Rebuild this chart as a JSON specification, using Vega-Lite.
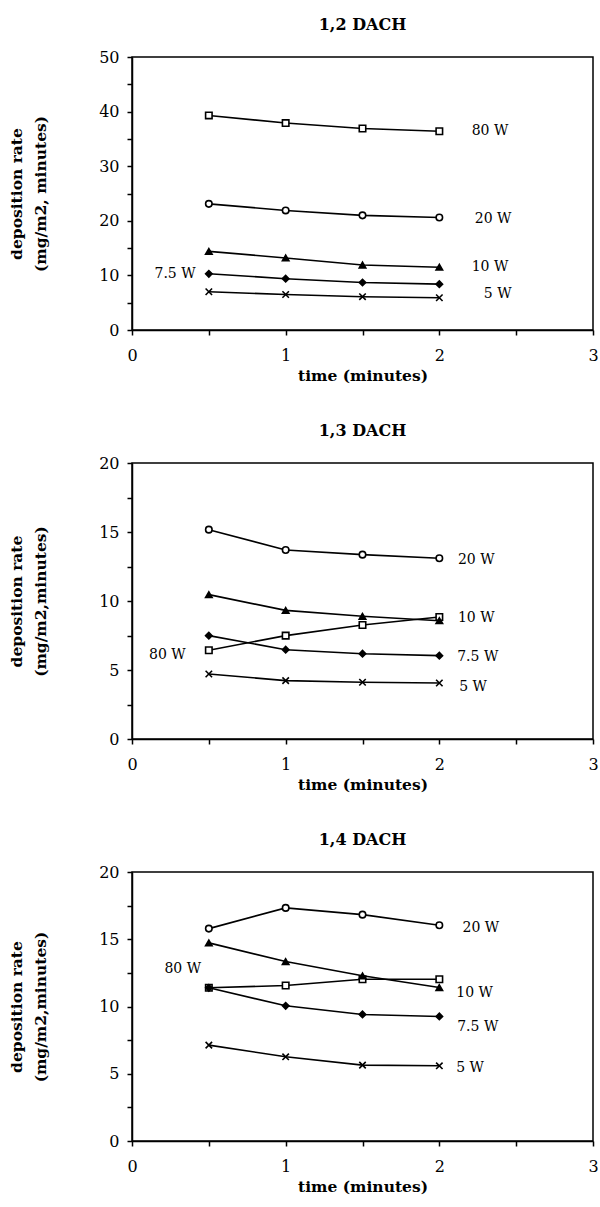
{
  "$schema": "https://vega.github.io/schema/vega-lite/v6.json",
  "background": "white",
  "padding": {"left": 8, "top": 16, "right": 0, "bottom": 0},
  "spacing": 37,
  "config": {
    "font": "DejaVu Serif",
    "view": {"stroke": "black", "strokeWidth": 1.5},
    "axis": {
      "domainColor": "black", "domainWidth": 1.5, "tickColor": "black", "tickWidth": 1.5, "tickSize": 5,
      "grid": false, "labelFont": "DejaVu Serif", "labelFontSize": 16, "labelColor": "black",
      "titleFont": "DejaVu Serif", "titleFontSize": 15.5, "titleFontWeight": "bold", "titleColor": "black"
    },
    "axisX": {"labelPadding": 12, "titlePadding": 5, "labelFlush": false, "labelOverlap": false},
    "axisY": {"labelPadding": 8, "titlePadding": 50, "titleLineHeight": 24, "labelOverlap": false},
    "title": {"font": "DejaVu Serif", "fontSize": 16, "fontWeight": "bold", "color": "black", "offset": 16}
  },
  "datasets": {
    "d12": [
      {"s": "80 W", "t": 0.5, "v": 39.3}, {"s": "80 W", "t": 1, "v": 37.9}, {"s": "80 W", "t": 1.5, "v": 36.9}, {"s": "80 W", "t": 2, "v": 36.4},
      {"s": "20 W", "t": 0.5, "v": 23.1}, {"s": "20 W", "t": 1, "v": 21.9}, {"s": "20 W", "t": 1.5, "v": 21.0}, {"s": "20 W", "t": 2, "v": 20.6},
      {"s": "10 W", "t": 0.5, "v": 14.4}, {"s": "10 W", "t": 1, "v": 13.2}, {"s": "10 W", "t": 1.5, "v": 11.9}, {"s": "10 W", "t": 2, "v": 11.5},
      {"s": "7.5 W", "t": 0.5, "v": 10.3}, {"s": "7.5 W", "t": 1, "v": 9.4}, {"s": "7.5 W", "t": 1.5, "v": 8.7}, {"s": "7.5 W", "t": 2, "v": 8.4},
      {"s": "5 W", "t": 0.5, "v": 7.0}, {"s": "5 W", "t": 1, "v": 6.5}, {"s": "5 W", "t": 1.5, "v": 6.1}, {"s": "5 W", "t": 2, "v": 5.9}
    ],
    "d13": [
      {"s": "80 W", "t": 0.5, "v": 6.43}, {"s": "80 W", "t": 1, "v": 7.49}, {"s": "80 W", "t": 1.5, "v": 8.26}, {"s": "80 W", "t": 2, "v": 8.84},
      {"s": "20 W", "t": 0.5, "v": 15.17}, {"s": "20 W", "t": 1, "v": 13.7}, {"s": "20 W", "t": 1.5, "v": 13.36}, {"s": "20 W", "t": 2, "v": 13.1},
      {"s": "10 W", "t": 0.5, "v": 10.46}, {"s": "10 W", "t": 1, "v": 9.32}, {"s": "10 W", "t": 1.5, "v": 8.89}, {"s": "10 W", "t": 2, "v": 8.57},
      {"s": "7.5 W", "t": 0.5, "v": 7.49}, {"s": "7.5 W", "t": 1, "v": 6.47}, {"s": "7.5 W", "t": 1.5, "v": 6.18}, {"s": "7.5 W", "t": 2, "v": 6.04},
      {"s": "5 W", "t": 0.5, "v": 4.71}, {"s": "5 W", "t": 1, "v": 4.23}, {"s": "5 W", "t": 1.5, "v": 4.11}, {"s": "5 W", "t": 2, "v": 4.06}
    ],
    "d14": [
      {"s": "80 W", "t": 0.5, "v": 11.39}, {"s": "80 W", "t": 1, "v": 11.56}, {"s": "80 W", "t": 1.5, "v": 12.03}, {"s": "80 W", "t": 2, "v": 12.03},
      {"s": "20 W", "t": 0.5, "v": 15.79}, {"s": "20 W", "t": 1, "v": 17.33}, {"s": "20 W", "t": 1.5, "v": 16.83}, {"s": "20 W", "t": 2, "v": 16.04},
      {"s": "10 W", "t": 0.5, "v": 14.73}, {"s": "10 W", "t": 1, "v": 13.34}, {"s": "10 W", "t": 1.5, "v": 12.28}, {"s": "10 W", "t": 2, "v": 11.41},
      {"s": "7.5 W", "t": 0.5, "v": 11.39}, {"s": "7.5 W", "t": 1, "v": 10.05}, {"s": "7.5 W", "t": 1.5, "v": 9.41}, {"s": "7.5 W", "t": 2, "v": 9.26},
      {"s": "5 W", "t": 0.5, "v": 7.13}, {"s": "5 W", "t": 1, "v": 6.26}, {"s": "5 W", "t": 1.5, "v": 5.64}, {"s": "5 W", "t": 2, "v": 5.59}
    ],
    "l12": [
      {"label": "80 W", "t": 2.33, "v": 36.4}, {"label": "20 W", "t": 2.35, "v": 20.3}, {"label": "10 W", "t": 2.33, "v": 11.5},
      {"label": "5 W", "t": 2.38, "v": 6.6}, {"label": "7.5 W", "t": 0.28, "v": 10.3}
    ],
    "l13": [
      {"label": "20 W", "t": 2.24, "v": 12.97}, {"label": "10 W", "t": 2.24, "v": 8.77}, {"label": "7.5 W", "t": 2.25, "v": 5.94},
      {"label": "5 W", "t": 2.22, "v": 3.77}, {"label": "80 W", "t": 0.23, "v": 6.09}
    ],
    "l14": [
      {"label": "20 W", "t": 2.27, "v": 15.8}, {"label": "10 W", "t": 2.23, "v": 11.0}, {"label": "7.5 W", "t": 2.25, "v": 8.48},
      {"label": "5 W", "t": 2.2, "v": 5.43}, {"label": "80 W", "t": 0.33, "v": 12.8}
    ]
  },
  "vconcat": [
    {
      "title": "1,2 DACH",
      "width": 461, "height": 273,
      "encoding": {
        "x": {"field": "t", "type": "quantitative", "scale": {"domain": [0, 3], "nice": false},
              "axis": {"title": "time (minutes)", "values": [0, 0.5, 1, 1.5, 2, 2.5, 3], "labelExpr": "datum.value % 1 == 0 ? format(datum.value, 'd') : ''"}},
        "y": {"field": "v", "type": "quantitative", "scale": {"domain": [0, 50], "nice": false},
              "axis": {"title": ["deposition rate", "(mg/m2, minutes)"], "values": [0, 5, 10, 15, 20, 25, 30, 35, 40, 45, 50], "labelExpr": "datum.value % 10 == 0 ? datum.label : ''"}}
      },
      "layer": [
        {"data": {"name": "d12"}, "mark": {"type": "line", "color": "black", "strokeWidth": 1.6}, "encoding": {"detail": {"field": "s"}}},
        {"data": {"name": "d12"}, "mark": {"type": "point", "filled": true, "opacity": 1, "stroke": "black", "strokeWidth": 1.6, "size": 42},
         "encoding": {
           "shape": {"field": "s", "scale": {"domain": ["80 W", "20 W", "10 W", "7.5 W", "5 W"], "range": ["square", "circle", "triangle-up", "diamond", "M-1,-1L1,1M-1,1L1,-1"]}, "legend": null},
           "fill": {"field": "s", "scale": {"domain": ["80 W", "20 W", "10 W", "7.5 W", "5 W"], "range": ["white", "white", "black", "black", "black"]}, "legend": null}
         }},
        {"data": {"name": "l12"}, "mark": {"type": "text", "fontSize": 14, "align": "center", "baseline": "middle", "color": "black"},
         "encoding": {"text": {"field": "label"}}}
      ]
    },
    {
      "title": "1,3 DACH",
      "width": 461, "height": 276,
      "encoding": {
        "x": {"field": "t", "type": "quantitative", "scale": {"domain": [0, 3], "nice": false},
              "axis": {"title": "time (minutes)", "values": [0, 0.5, 1, 1.5, 2, 2.5, 3], "labelExpr": "datum.value % 1 == 0 ? format(datum.value, 'd') : ''"}},
        "y": {"field": "v", "type": "quantitative", "scale": {"domain": [0, 20], "nice": false},
              "axis": {"title": ["deposition rate", "(mg/m2,minutes)"], "values": [0, 2.5, 5, 7.5, 10, 12.5, 15, 17.5, 20], "labelExpr": "datum.value % 5 == 0 ? format(datum.value, 'd') : ''"}}
      },
      "layer": [
        {"data": {"name": "d13"}, "mark": {"type": "line", "color": "black", "strokeWidth": 1.6}, "encoding": {"detail": {"field": "s"}}},
        {"data": {"name": "d13"}, "mark": {"type": "point", "filled": true, "opacity": 1, "stroke": "black", "strokeWidth": 1.6, "size": 42},
         "encoding": {
           "shape": {"field": "s", "scale": {"domain": ["80 W", "20 W", "10 W", "7.5 W", "5 W"], "range": ["square", "circle", "triangle-up", "diamond", "M-1,-1L1,1M-1,1L1,-1"]}, "legend": null},
           "fill": {"field": "s", "scale": {"domain": ["80 W", "20 W", "10 W", "7.5 W", "5 W"], "range": ["white", "white", "black", "black", "black"]}, "legend": null}
         }},
        {"data": {"name": "l13"}, "mark": {"type": "text", "fontSize": 14, "align": "center", "baseline": "middle", "color": "black"},
         "encoding": {"text": {"field": "label"}}}
      ]
    },
    {
      "title": "1,4 DACH",
      "width": 461, "height": 269,
      "encoding": {
        "x": {"field": "t", "type": "quantitative", "scale": {"domain": [0, 3], "nice": false},
              "axis": {"title": "time (minutes)", "values": [0, 0.5, 1, 1.5, 2, 2.5, 3], "labelExpr": "datum.value % 1 == 0 ? format(datum.value, 'd') : ''"}},
        "y": {"field": "v", "type": "quantitative", "scale": {"domain": [0, 20], "nice": false},
              "axis": {"title": ["deposition rate", "(mg/m2,minutes)"], "values": [0, 2.5, 5, 7.5, 10, 12.5, 15, 17.5, 20], "labelExpr": "datum.value % 5 == 0 ? format(datum.value, 'd') : ''"}}
      },
      "layer": [
        {"data": {"name": "d14"}, "mark": {"type": "line", "color": "black", "strokeWidth": 1.6}, "encoding": {"detail": {"field": "s"}}},
        {"data": {"name": "d14"}, "mark": {"type": "point", "filled": true, "opacity": 1, "stroke": "black", "strokeWidth": 1.6, "size": 42},
         "encoding": {
           "shape": {"field": "s", "scale": {"domain": ["80 W", "20 W", "10 W", "7.5 W", "5 W"], "range": ["square", "circle", "triangle-up", "diamond", "M-1,-1L1,1M-1,1L1,-1"]}, "legend": null},
           "fill": {"field": "s", "scale": {"domain": ["80 W", "20 W", "10 W", "7.5 W", "5 W"], "range": ["white", "white", "black", "black", "black"]}, "legend": null}
         }},
        {"data": {"name": "l14"}, "mark": {"type": "text", "fontSize": 14, "align": "center", "baseline": "middle", "color": "black"},
         "encoding": {"text": {"field": "label"}}}
      ]
    }
  ]
}
